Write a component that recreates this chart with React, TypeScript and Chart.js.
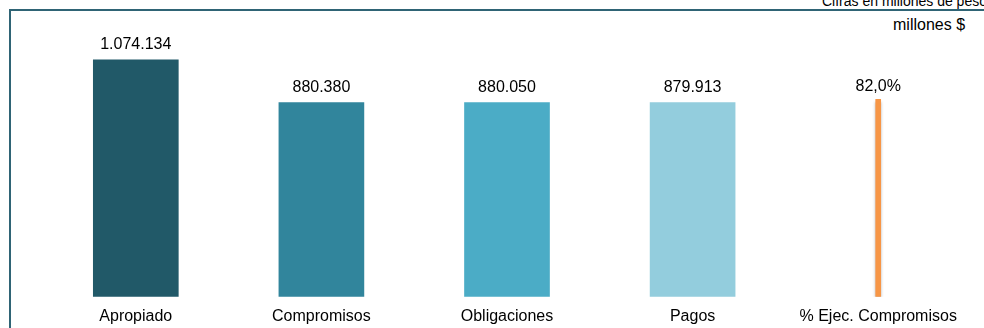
import React, { useEffect, useRef } from "react";
import { Chart, registerables } from "chart.js";

Chart.register(...registerables);

const categories = ["Apropiado", "Compromisos", "Obligaciones", "Pagos", "% Ejec. Compromisos"];
const amounts = [1074134, 880380, 880050, 879913, null];
const percentValues = [null, null, null, null, 82.0];
const barColors = ["#215968", "#31859C", "#4BACC6", "#93CDDD", "#F79646"];
const unitNote = "Cifras en millones de pesos";
const unitLabel = "millones $";

const FONT = "'Liberation Sans', Arial, sans-serif";

function fmtThousands(v: number) {
  return String(Math.round(v)).replace(/\B(?=(\d{3})+(?!\d))/g, ".");
}
function fmtPct(v: number) {
  return v.toFixed(1).replace(".", ",") + "%";
}

const valueLabels = {
  id: "valueLabels",
  afterDatasetsDraw(chart: any) {
    const ctx = chart.ctx;
    ctx.save();
    ctx.font = `16px ${FONT}`;
    ctx.fillStyle = "#000000";
    ctx.textAlign = "center";
    ctx.textBaseline = "bottom";
    chart.data.datasets.forEach((ds: any, di: number) => {
      const meta = chart.getDatasetMeta(di);
      meta.data.forEach((el: any, i: number) => {
        const v = ds.data[i];
        if (v === null || v === undefined) return;
        const txt = di === 0 ? fmtThousands(v) : fmtPct(v);
        const off = di === 0 ? 7 : 5;
        ctx.fillText(txt, el.x, el.y - off);
      });
    });
    ctx.restore();
  },
};

const shadowPlugin = {
  id: "barShadow",
  beforeDatasetDraw(chart: any, args: any) {
    if (args.index === 1) {
      const ctx = chart.ctx;
      ctx.save();
      ctx.shadowColor = "rgba(0,0,0,0.3)";
      ctx.shadowBlur = 3;
      ctx.shadowOffsetX = 0;
      ctx.shadowOffsetY = 3;
    }
  },
  afterDatasetDraw(chart: any, args: any) {
    if (args.index === 1) chart.ctx.restore();
  },
};

export default function App() {
  const ref = useRef<HTMLCanvasElement>(null);
  useEffect(() => {
    if (!ref.current) return;
    const chart = new Chart(ref.current, {
      type: "bar",
      data: {
        labels: categories,
        datasets: [
          {
            data: amounts,
            backgroundColor: barColors.slice(0, 4),
            barThickness: 85,
            grouped: false,
            yAxisID: "y",
          } as any,
          {
            data: percentValues,
            backgroundColor: barColors[4],
            barThickness: 5,
            grouped: false,
            yAxisID: "y1",
          } as any,
        ],
      },
      options: {
        animation: false,
        responsive: false,
        maintainAspectRatio: false,
        layout: { padding: { top: 32, left: 43, right: 13, bottom: 5 } },
        plugins: { legend: { display: false }, tooltip: { enabled: false }, title: { display: false } },
        scales: {
          x: {
            grid: { display: false, drawTicks: false },
            border: { display: false },
            ticks: { color: "#000000", font: { family: FONT, size: 16 }, padding: 10, maxRotation: 0, autoSkip: false },
          },
          y: { display: false, min: 0, max: 1200000 },
          y1: { display: false, min: 0, max: 110 },
        },
      },
      plugins: [valueLabels, shadowPlugin],
    });
    return () => chart.destroy();
  }, []);

  return (
    <div style={{ position: "fixed", left: 0, top: 0, width: 984, height: 328, overflow: "hidden", background: "#ffffff", fontFamily: FONT }}>
      <div style={{ position: "absolute", left: 9, top: 9, width: 1100, height: 500, borderLeft: "2px solid #2F6475", borderTop: "2px solid #2F6475", boxSizing: "border-box" }} />
      <div style={{ position: "absolute", left: 822, top: -7, fontSize: 14, lineHeight: "16px", whiteSpace: "nowrap", color: "#000" }}>{unitNote}</div>
      <div style={{ position: "absolute", left: 893, top: 16, fontSize: 16, lineHeight: "18px", whiteSpace: "nowrap", color: "#000" }}>{unitLabel}</div>
      <canvas ref={ref} width={984} height={341} style={{ position: "absolute", left: 0, top: 0, width: 984, height: 341 }} />
    </div>
  );
}
